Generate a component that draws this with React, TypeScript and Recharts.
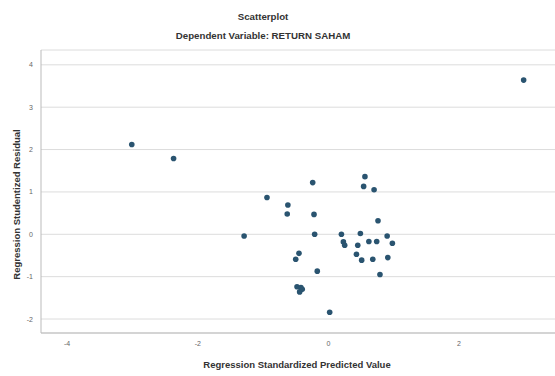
import { ScatterChart, Scatter, XAxis, YAxis, CartesianGrid } from "recharts";

const predicted = [
    -3.01, -2.37, 2.99, 0.56, -0.24, 0.54, 0.70, -0.94, -0.62, -0.63, -0.22, 0.76,
    -1.29, -0.21, 0.20, 0.49, 0.90, 0.23, 0.25, 0.45, 0.62, 0.74, 0.98,
    -0.45, 0.43, -0.50, 0.51, 0.68, 0.91, -0.17, 0.79, -0.48, -0.42, -0.44, -0.40, 0.02,
];
const residual = [
    2.12, 1.79, 3.64, 1.36, 1.22, 1.13, 1.05, 0.87, 0.69, 0.48, 0.47, 0.32,
    -0.04, 0.0, 0.0, 0.02, -0.04, -0.18, -0.26, -0.26, -0.17, -0.17, -0.21,
    -0.45, -0.47, -0.59, -0.61, -0.59, -0.55, -0.87, -0.95, -1.24, -1.26, -1.36, -1.30, -1.84,
];
const xTicks = [-4, -2, 0, 2];
const yTicks = [-2, -1, 0, 1, 2, 3, 4];

const points = predicted.map((x, i) => ({ x, y: residual[i] }));

const font = '"Liberation Sans", Arial, sans-serif';

const Dot = (props: any) => <circle cx={props.cx} cy={props.cy} r={2.8} fill="#2a5470" />;

export default function App() {
    return (
        <div style={{ position: "absolute", left: 0, top: 0, width: 555, height: 376, background: "#fff", fontFamily: font }}>
            <div style={{ position: "absolute", top: 11, left: 0, width: 526, textAlign: "center", fontSize: 9.7, fontWeight: 700, color: "#333" }}>
                Scatterplot
            </div>
            <div style={{ position: "absolute", top: 30, left: 0, width: 526, textAlign: "center", fontSize: 9.7, fontWeight: 700, color: "#333" }}>
                Dependent Variable: RETURN SAHAM
            </div>
            <ScatterChart width={555} height={376} margin={{ top: 50, right: 0, left: 11, bottom: 0 }}>
                <CartesianGrid vertical={false} stroke="#dcdcdc" />
                <XAxis
                    type="number"
                    dataKey="x"
                    domain={[-4.4, 3.47]}
                    ticks={xTicks}
                    allowDataOverflow
                    height={43}
                    tickLine={false}
                    axisLine={{ stroke: "#bbb" }}
                    tick={{ fontSize: 7, fill: "#666" }}
                />
                <YAxis
                    type="number"
                    dataKey="y"
                    domain={[-2.33, 4.35]}
                    ticks={yTicks}
                    allowDataOverflow
                    width={30}
                    tickLine={false}
                    axisLine={{ stroke: "#bbb" }}
                    tick={{ fontSize: 7, fill: "#666" }}
                />
                <Scatter data={points} shape={Dot} isAnimationActive={false} />
            </ScatterChart>
            <div style={{ position: "absolute", top: 359, left: 0, width: 594, textAlign: "center", fontSize: 9.5, fontWeight: 700, color: "#333" }}>
                Regression Standardized Predicted Value
            </div>
            <div style={{ position: "absolute", left: 16, top: 205, width: 0, height: 0 }}>
                <div style={{ position: "absolute", left: -100, top: -6, width: 200, textAlign: "center", transform: "rotate(-90deg)", fontSize: 9.5, fontWeight: 700, color: "#333", whiteSpace: "nowrap" }}>
                    Regression Studentized Residual
                </div>
            </div>
        </div>
    );
}
